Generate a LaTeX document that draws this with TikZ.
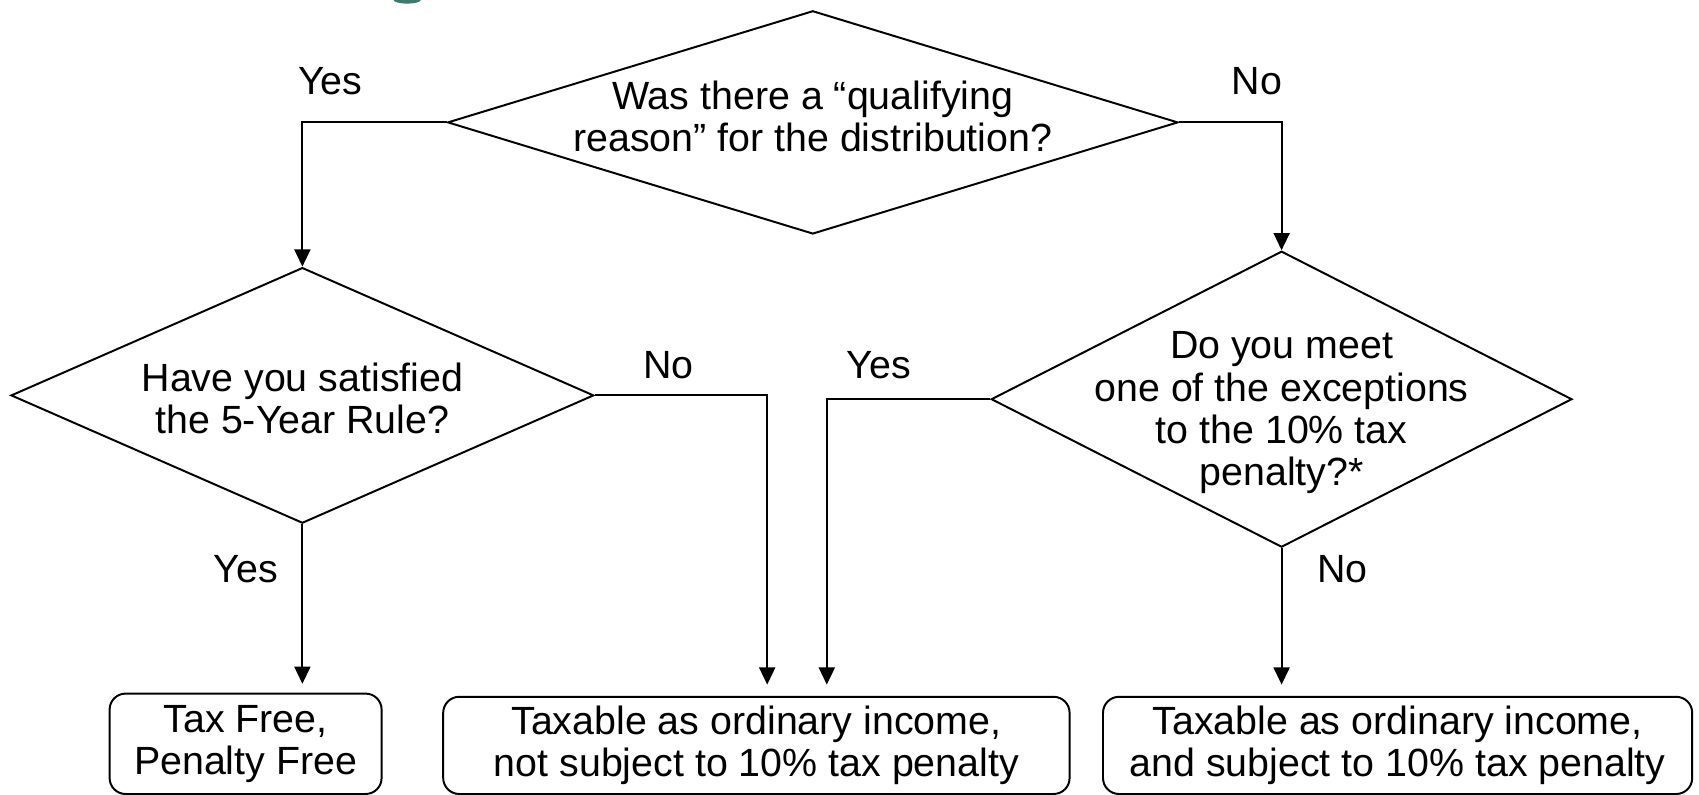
\documentclass[tikz,border=0pt]{standalone}
\usepackage{fontspec}
\setmainfont{Liberation Sans}
\usetikzlibrary{shapes.geometric,arrows.meta}
\definecolor{titleteal}{RGB}{62,120,112}
\tikzset{
	big/.style={font=\fontsize{28}{30}\selectfont},
	dia/.style={diamond, draw, line width=1.4pt, inner sep=0pt},
	qtext/.style={big, align=center, inner sep=0pt},
	answer/.style={big, draw, line width=1.4pt, rounded corners=0.4cm, align=center, inner sep=0pt},
	flow/.style={-{Triangle[length=4.3mm,width=4mm]}, line width=1.4pt},
	tag/.style={big, inner sep=0pt}
}
\begin{document}
\begin{tikzpicture}
		\useasboundingbox (0,0) rectangle (42.475,19.85);
		\fill[titleteal] (9.84,19.85) arc[start angle=180,end angle=360,x radius=0.34cm,y radius=0.09cm] -- cycle;
		\node[dia, minimum width=18.26cm, minimum height=5.58cm] (q1) at (20.32,16.79) {};
		\node[dia, minimum width=14.57cm, minimum height=6.39cm] (q2) at (7.56,9.965) {};
		\node[dia, minimum width=14.52cm, minimum height=7.40cm] (q3) at (32.04,9.87) {};
		\node[qtext] (t1) at ([yshift=0.14cm]q1) {Was there a “qualifying\\reason” for the distribution?};
		\node[qtext] (t2) at ([yshift=-0.08cm]q2) {Have you satisfied\\the 5-Year Rule?};
		\node[qtext] (t3) at ([yshift=-0.34cm]q3) {Do you meet\\one of the exceptions\\to the 10\% tax\\penalty?*};
		\node[answer, minimum width=6.80cm, minimum height=2.51cm] (r1) at (6.14,1.255) {Tax Free,\\Penalty Free};
		\node[answer, minimum width=15.66cm, minimum height=2.43cm] (r2) at (18.91,1.215) {Taxable as ordinary income,\\not subject to 10\% tax penalty};
		\node[answer, minimum width=14.73cm, minimum height=2.43cm] (r3) at (34.94,1.215) {Taxable as ordinary income,\\and subject to 10\% tax penalty};
		\coordinate (c1) at ([xshift=0.27cm]r2.north);
		\coordinate (c2) at ([xshift=1.76cm]r2.north);
		\draw[flow] (q1.west) -| (q2.north);
		\draw[flow] (q1.east) -| (q3.north);
		\draw[flow, shorten >=0.22cm] (q2.south) -- (q2.south |- r1.north);
		\draw[flow, shorten >=0.28cm] (q2.east) -| (c1);
		\draw[flow, shorten >=0.28cm] (q3.west) -| (c2);
		\draw[flow, shorten >=0.28cm] (q3.south) -- (q3.south |- r3.north);
		\node[tag] (y1) at (8.26,17.82) {Yes};
		\node[tag] (n1) at (31.42,17.82) {No};
		\node[tag] (n2) at (16.71,10.72) {No};
		\node[tag] (y2) at (21.97,10.72) {Yes};
		\node[tag] (y3) at (6.15,5.63) {Yes};
		\node[tag] (n3) at (33.56,5.63) {No};
	\end{tikzpicture}
\end{document}
